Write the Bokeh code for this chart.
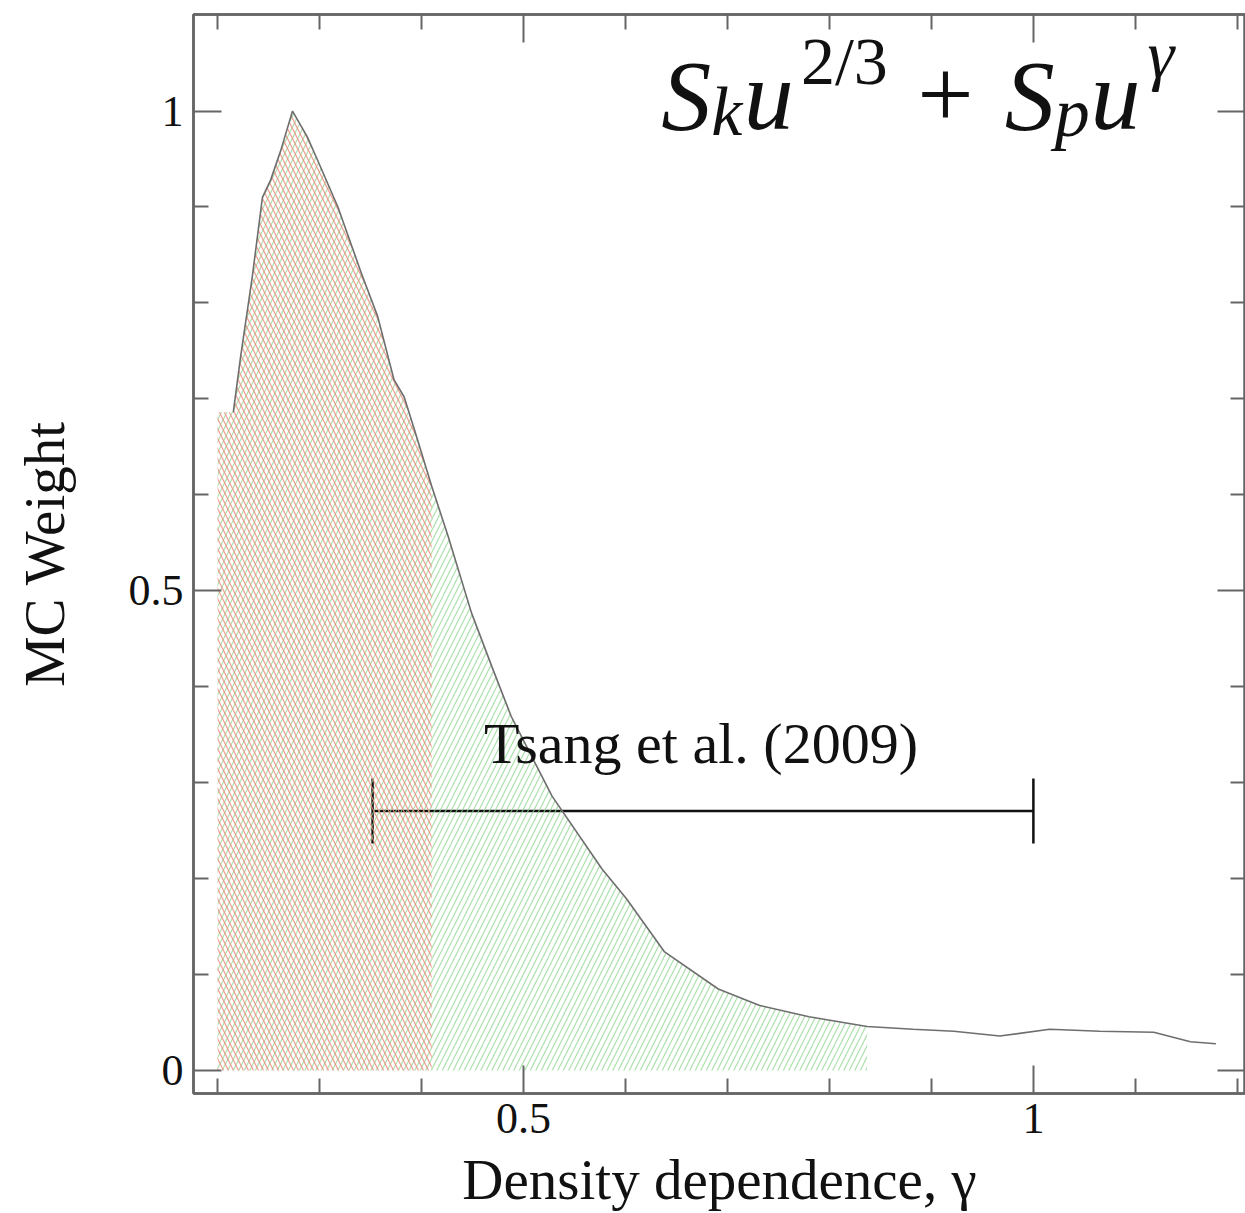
import numpy as np
from bokeh.plotting import figure
from bokeh.models import (ColumnDataSource, FixedTicker, LinearAxis, Range1d,
                          Whisker, TeeHead, Label)
from bokeh.embed import file_html
from bokeh.resources import INLINE

# ---------------- data ----------------
gamma = [0.200, 0.2154, 0.2226, 0.234, 0.244, 0.252, 0.262, 0.2735, 0.288, 0.298,
         0.318, 0.341, 0.357, 0.373, 0.383, 0.393, 0.410, 0.426, 0.449, 0.469,
         0.488, 0.528, 0.577, 0.601, 0.638, 0.691, 0.731, 0.780, 0.837, 0.882,
         0.922, 0.967, 1.016, 1.065, 1.118, 1.154, 1.179]
weight = [0.686, 0.686, 0.744, 0.827, 0.910, 0.928, 0.959, 1.000, 0.973, 0.949,
          0.900, 0.831, 0.786, 0.720, 0.702, 0.668, 0.609, 0.557, 0.477, 0.421,
          0.369, 0.286, 0.210, 0.179, 0.124, 0.085, 0.068, 0.056, 0.046, 0.043,
          0.041, 0.036, 0.043, 0.041, 0.040, 0.030, 0.028]

red_end = 0.410     # red hatched band upper limit
green_end = 0.837   # green hatched band upper limit

tsang_low = [0.352]
tsang_high = [1.000]
tsang_y = [0.2705]
tsang_label = "Tsang et al. (2009)"

x_major = [0.5, 1.0]
x_minor = [0.2, 0.3, 0.4, 0.6, 0.7, 0.8, 0.9, 1.1, 1.2]
y_major = [0.0, 0.5, 1.0]
y_minor = [0.1, 0.2, 0.3, 0.4, 0.6, 0.7, 0.8, 0.9]

x_label = "Density dependence, γ"
y_label = "MC Weight"

# ---------------- figure ----------------
SERIF = "Liberation Serif"
AX = "#666666"

p = figure(width=1245, height=1213, output_backend="svg", toolbar_location=None,
           x_range=Range1d(0.1764, 1.208), y_range=Range1d(-0.0239, 1.1006),
           min_border_left=193, min_border_top=14, min_border_bottom=118,
           min_border_right=0, x_axis_type=None, y_axis_type=None)
p.background_fill_color = "white"
p.border_fill_color = "white"
p.outline_line_color = AX
p.outline_line_width = 2.5
p.grid.visible = False

g = np.array(gamma)
w = np.array(weight)

# green hatched area (drawn first), red hatched area over it
mg = g <= green_end + 1e-9
p.varea(x=g[mg], y1=0, y2=w[mg], fill_alpha=0,
        hatch_pattern="right_diagonal_line", hatch_color="#8fd68f",
        hatch_alpha=0.75, hatch_scale=11, hatch_weight=1.2)
mr = g <= red_end + 1e-9
p.varea(x=g[mr], y1=0, y2=w[mr], fill_alpha=0,
        hatch_pattern="left_diagonal_line", hatch_color="#ee8a7c",
        hatch_alpha=0.85, hatch_scale=10, hatch_weight=1.2)

# curve
p.line(g[1:], w[1:], line_color="#6e6e6e", line_width=1.6)

# Tsang et al. error bar
src = ColumnDataSource(dict(lo=tsang_low, hi=tsang_high, y=tsang_y))
wh = Whisker(base="y", lower="lo", upper="hi", dimension="width", source=src,
             line_color="#111111", line_width=2.5,
             lower_head=TeeHead(size=65, line_color="#111111", line_width=2.5),
             upper_head=TeeHead(size=65, line_color="#111111", line_width=2.5))
p.add_layout(wh)
p.add_layout(Label(x=(tsang_low[0] + tsang_high[0]) / 2 - 0.002, y=0.341, text=tsang_label,
                   text_align="center", text_baseline="alphabetic",
                   text_font=SERIF, text_font_size="58px", text_color="#111111"))

# formula  S_k u^{2/3} + S_p u^gamma
parts = [
    ("S", 0.635, 1.016, "100px", "italic"),
    ("k", 0.684, 1.000, "70px", "italic"),
    ("u", 0.716, 1.016, "100px", "italic"),
    ("2/3", 0.772, 1.052, "68px", "normal"),
    ("+", 0.886, 1.016, "100px", "normal"),
    ("S", 0.972, 1.016, "100px", "italic"),
    ("p", 1.021, 0.998, "70px", "italic"),
    ("u", 1.056, 1.016, "100px", "italic"),
    ("γ", 1.112, 1.058, "68px", "italic"),
]
for t, x, y, fs, st in parts:
    p.add_layout(Label(x=x, y=y, text=t, text_align="left", text_baseline="alphabetic",
                       text_font=SERIF, text_font_size=fs, text_font_style=st,
                       text_color="#111111"))


def style_axis(ax, ticks, minor, show_labels):
    ax.ticker = FixedTicker(ticks=ticks, minor_ticks=minor)
    ax.axis_line_color = AX
    ax.axis_line_width = 2.5
    ax.major_tick_line_color = AX
    ax.major_tick_line_width = 2
    ax.minor_tick_line_color = AX
    ax.minor_tick_line_width = 2
    ax.major_tick_in = 28
    ax.major_tick_out = 0
    ax.minor_tick_in = 15
    ax.minor_tick_out = 0
    if show_labels:
        ax.major_label_text_font = SERIF
        ax.major_label_text_font_size = "44px"
        ax.major_label_text_color = "#111111"
        ax.major_label_standoff = 10
        ax.axis_label_text_font = SERIF
        ax.axis_label_text_font_size = "57px"
        ax.axis_label_text_font_style = "normal"
        ax.axis_label_text_color = "#111111"
    else:
        ax.major_label_text_font_size = "1px"
        ax.major_label_text_color = None
        ax.major_label_standoff = 0
        ax.axis_label = None


xb = LinearAxis(axis_label=x_label)
style_axis(xb, x_major, x_minor, True)
xb.axis_label_standoff = 12
xb.major_label_overrides = {0.5: "0.5", 1.0: "1"}
p.add_layout(xb, "below")

yl = LinearAxis(axis_label=y_label)
style_axis(yl, y_major, y_minor, True)
yl.axis_label_standoff = 50
yl.major_label_overrides = {0.0: "0", 0.5: "0.5", 1.0: "1"}
p.add_layout(yl, "left")

xt = LinearAxis()
style_axis(xt, x_major, x_minor, False)
p.add_layout(xt, "above")

yr = LinearAxis()
style_axis(yr, y_major, y_minor, False)
p.add_layout(yr, "right")

open("out.html", "w").write(file_html(p, INLINE))
